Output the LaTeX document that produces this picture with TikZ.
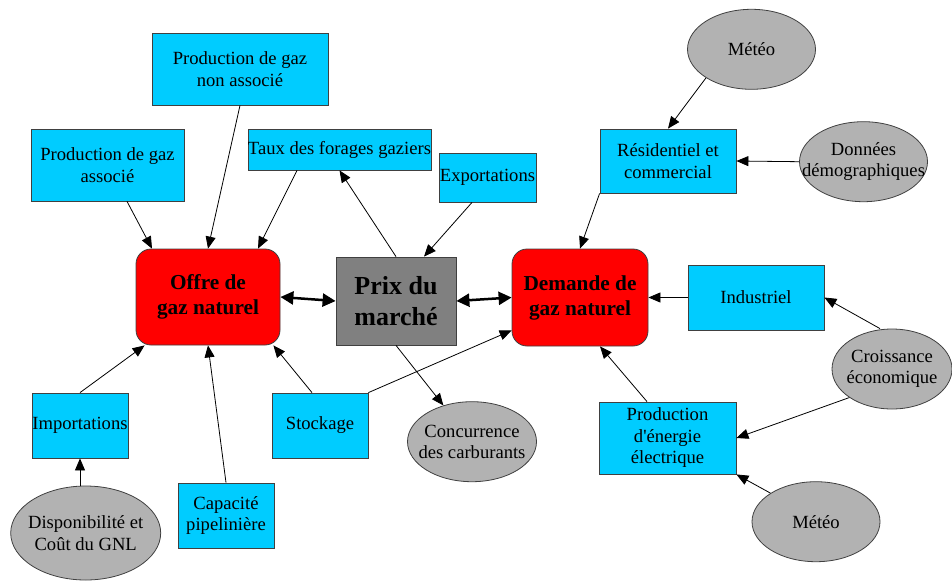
\documentclass[tikz,border=0pt]{standalone}
\usepackage{fontspec}
\setmainfont{LiberationSerif}[Extension=.ttf, UprightFont=*-Regular, BoldFont=*-Bold, ItalicFont=*-Italic, BoldItalicFont=*-BoldItalic]
\usetikzlibrary{arrows.meta,shapes.geometric}

\definecolor{boxcyan}{RGB}{0,204,255}
\definecolor{ovalgray}{RGB}{178,178,178}
\definecolor{prixgray}{RGB}{128,128,128}

\begin{document}
\begin{tikzpicture}[x=1pt,y=-1pt,
    facteur/.style={draw=black!75, line width=0.8pt, fill=boxcyan, inner sep=0pt, align=center, font=\fontsize{18.6}{21.5}\selectfont},
    externe/.style={ellipse, draw=black!75, line width=0.8pt, fill=ovalgray, inner xsep=-20pt, inner ysep=0pt, align=center, font=\fontsize{18.6}{21.5}\selectfont},
    marche/.style={draw=black!75, line width=0.8pt, fill=red, rounded corners=15pt, inner sep=0pt, align=center, font=\fontsize{21.3}{25}\selectfont\bfseries},
    lien/.style={line width=0.8pt, -{Triangle[length=12pt,width=10pt]}},
    liendouble/.style={line width=2.5pt, {Triangle[length=13pt,width=13pt]}-{Triangle[length=13pt,width=13pt]}}]
    \useasboundingbox (0,0) rectangle (952,581);

    % le marche au centre
    \node[marche, minimum width=144pt, minimum height=96pt] (offre) at (208,297) {Offre de\\gaz naturel};
    \node[marche, minimum width=136pt, minimum height=97pt] (demande) at (580,297.5) {Demande de\\gaz naturel};
    \node[draw=black!75, line width=0.8pt, fill=prixgray, inner sep=0pt, align=center,
          font=\fontsize{26}{31.5}\selectfont\bfseries, minimum width=120pt, minimum height=88pt] (prix) at (396,301) {Prix du\\march\'e};

    % cote offre
    \node[facteur, minimum width=176pt, minimum height=72pt] (nonassoc) at (240,69) {Production de gaz\\non associ\'e};
    \node[facteur, minimum width=153pt, minimum height=72pt] (assoc) at (107.5,165) {Production de gaz\\associ\'e};
    \node[facteur, minimum width=183pt, minimum height=41pt] (taux) at (339.5,149.5) {Taux des forages gaziers};
    \node[facteur, minimum width=97pt, minimum height=49pt] (export) at (487.5,177.5) {Exportations};
    \node[facteur, minimum width=96pt, minimum height=65pt] (import) at (80,425.5) {Importations};
    \node[facteur, minimum width=96pt, minimum height=65pt] (capacite) at (226,515.5) {Capacit\'e\\pipelini\`ere};
    \node[facteur, minimum width=96pt, minimum height=65pt] (stockage) at (320,425.5) {Stockage};
    \node[externe, minimum width=150pt, minimum height=94pt] (gnl) at (85.7,533) {Disponibilit\'e et\\Co\^ut du GNL};
    \node[externe, minimum width=129pt, minimum height=80pt] (concur) at (472,441.7) {Concurrence\\des carburants};

    % cote demande
    \node[facteur, minimum width=136pt, minimum height=64pt] (resid) at (668,161) {R\'esidentiel et\\commercial};
    \node[facteur, minimum width=136pt, minimum height=65pt] (indus) at (756,297.5) {Industriel};
    \node[facteur, minimum width=137pt, minimum height=72pt] (elec) at (667.5,438) {Production\\d\textquotesingle\'energie\\\'electrique};
    \node[externe, minimum width=128pt, minimum height=80pt] (meteoA) at (751.5,49.3) {M\'et\'eo};
    \node[externe, minimum width=128pt, minimum height=80pt] (demo) at (863.5,161.7) {Donn\'ees\\d\'emographiques};
    \node[externe, minimum width=120pt, minimum height=80pt] (croiss) at (892,369) {Croissance\\\'economique};
    \node[externe, minimum width=128pt, minimum height=80pt] (meteoB) at (816,521.7) {M\'et\'eo};

    % fleches vers l'offre
    \draw[lien] ([xshift=19.5pt]assoc.south) -- ([xshift=-56pt]offre.north);
    \draw[lien] (nonassoc.south) -- (offre.north);
    \draw[lien] ([xshift=-42.5pt]taux.south) -- ([xshift=50pt]offre.north);
    \draw[lien] (import.north) -- ([xshift=9pt]offre.south west);
    \draw[lien] (import.south |- gnl.north) -- (import.south);
    \draw[lien] (capacite.north) -- (offre.south);
    \draw[lien] ([xshift=-8pt]stockage.north) -- ([xshift=-7pt]offre.south east);

    % prix
    \draw[liendouble] (offre.east) -- (prix.west);
    \draw[liendouble] (prix.east) -- (demande.west);
    \draw[lien] (prix.north) -- (taux.south);
    \draw[lien] ([xshift=-15.5pt]export.south) -- ([xshift=28pt]prix.north);
    \draw[lien] (prix.south) -- (concur);
    \draw[lien] (stockage.north east) -- ([yshift=16pt]demande.south west);

    % fleches vers la demande
    \draw[lien] (meteoA.south west) -- (resid.north);
    \draw[lien] (demo.west) -- (resid.east);
    \draw[lien] (resid.south west) -- (demande.north);
    \draw[lien] (indus.west) -- (demande.east);
    \draw[lien] ([xshift=-12pt]croiss.north) -- (indus.east);
    \draw[lien] (croiss.south west) -- (elec.east);
    \draw[lien] ([xshift=-20.5pt]elec.north) -- ([xshift=20pt]demande.south);
    \draw[lien] (meteoB.north west) -- (elec.south east);

\end{tikzpicture}
\end{document}
